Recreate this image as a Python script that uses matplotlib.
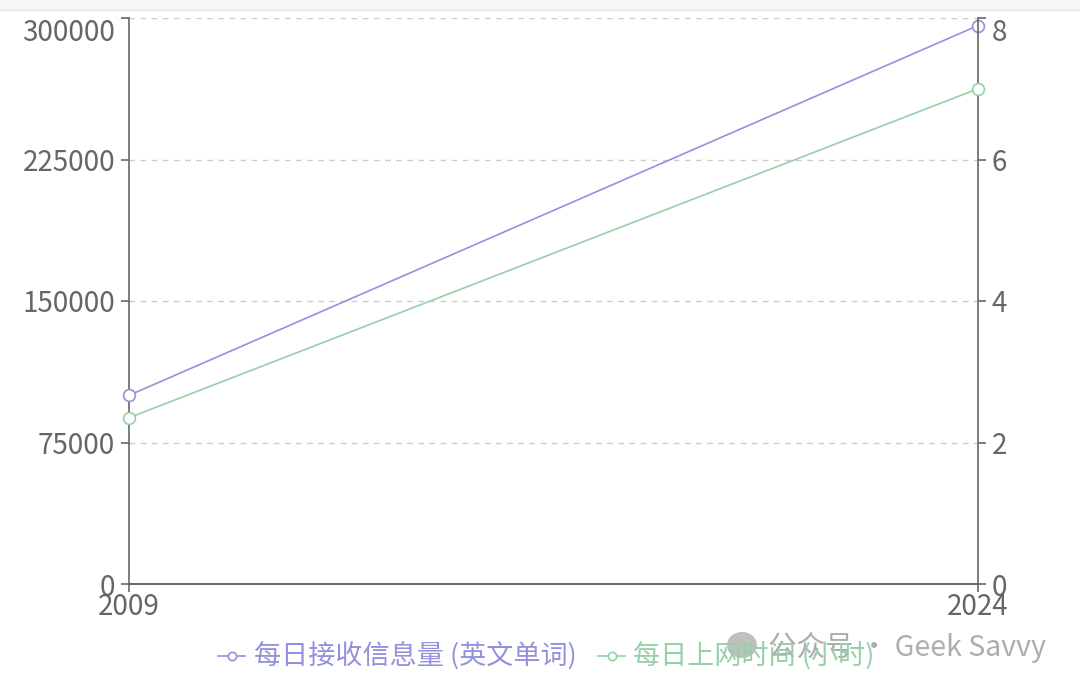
import matplotlib.pyplot as plt
from matplotlib.patches import Rectangle, Ellipse

plt.rcParams['font.family'] = ['Noto Sans CJK SC', 'DejaVu Sans']

years = [2009, 2024]
info_words = [100000, 296000]
online_hours = [2.35, 7.0]
label_info = '每日接收信息量 (英文单词)'
label_hours = '每日上网时间 (小时)'

purple = '#9391dc'
green = '#96d0a7'
axis_c = '#666666'

fig = plt.figure(figsize=(10.8, 6.9), dpi=100)
# grey strip at the top of the screenshot
fig.patches.append(Rectangle((0, 1 - 10 / 690), 1, 10 / 690, transform=fig.transFigure,
                             facecolor='#f6f6f6', edgecolor='none', zorder=0))
fig.lines.append(plt.Line2D([0, 1], [1 - 10 / 690] * 2, transform=fig.transFigure,
                            color='#e4e4e4', lw=1))

ax = fig.add_axes([129 / 1080, 1 - 584 / 690, (978 - 129) / 1080, (584 - 18) / 690])
ax2 = ax.twinx()

l1, = ax.plot(years, info_words, color=purple, lw=1.2, marker='o', ms=8.5,
              mfc='white', mec=purple, mew=1.2, label=label_info, clip_on=False, zorder=3)
l2, = ax2.plot(years, online_hours, color=green, lw=1.2, marker='o', ms=8.5,
               mfc='white', mec=green, mew=1.2, label=label_hours, clip_on=False, zorder=3)

ax.set_xlim(2009, 2024)
ax.set_xticks(years)
ax.set_ylim(0, 300000)
ax.set_yticks([0, 75000, 150000, 225000, 300000])
ax2.set_ylim(0, 8)
ax2.set_yticks([0, 2, 4, 6, 8])

ax.yaxis.grid(True, linestyle=(0, (4, 4)), color='#cccccc', lw=1)
ax.set_axisbelow(True)

for a in (ax, ax2):
    a.spines['top'].set_visible(False)
    for s in ('left', 'right', 'bottom'):
        a.spines[s].set_color(axis_c)
        a.spines[s].set_linewidth(1.2)
    a.tick_params(colors=axis_c, labelcolor=axis_c, labelsize=20, length=6, width=1.2, pad=4)
ax2.spines['left'].set_visible(False)
ax.spines['right'].set_visible(False)
ax.tick_params(axis='x', pad=0)

# top labels sit below their tick, as in the screenshot
ax.get_yticklabels()[-1].set_va('top')
ax2.get_yticklabels()[-1].set_va('top')

leg = fig.legend(handles=[l1, l2], loc='center', bbox_to_anchor=(0.506, 0.048), ncol=2,
                 frameon=False, fontsize=19.5, handlelength=1.0, handletextpad=0.3,
                 columnspacing=0.8, markerscale=0.7)
for txt, c in zip(leg.get_texts(), [purple, green]):
    txt.set_color(c)

# watermark
fig.patches.append(Ellipse((742 / 1080, 1 - 645 / 690), 30 / 1080, 26 / 690,
                           transform=fig.transFigure, facecolor='#aaaaaa',
                           edgecolor='none', alpha=0.75))
fig.text(768 / 1080, 1 - 647 / 690, '公众号 · Geek Savvy', fontsize=20.5, color='#999999',
         alpha=0.8, ha='left', va='center')

plt.savefig('out.png', dpi=100)
